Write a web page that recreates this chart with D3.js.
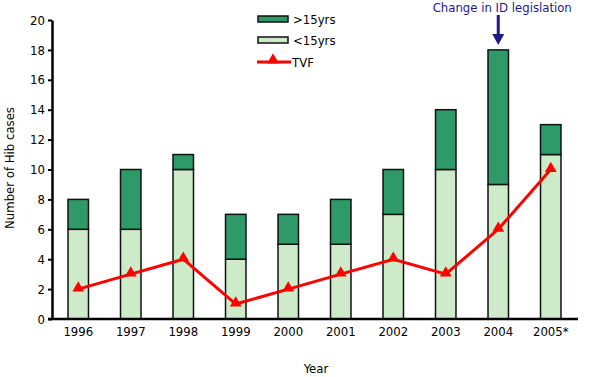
<!DOCTYPE html>
<html>
<head>
<meta charset="utf-8">
<script src="https://cdn.jsdelivr.net/npm/d3@7"></script>
<style>
  body { margin: 0; background: #fff; }
  text { font-family: "DejaVu Sans Condensed", "DejaVu Sans", sans-serif; font-stretch: condensed; fill: #000; }
</style>
</head>
<body>
<div id="chart"></div>
<script>
// data
var years = ['1996','1997','1998','1999','2000','2001','2002','2003','2004','2005*'];
var under15 = [6, 6, 10, 4, 5, 5, 7, 10, 9, 11];
var over15 = [2, 4, 1, 3, 2, 3, 3, 4, 9, 2];
var tvf = [2, 3, 4, 1, 2, 3, 4, 3, 6, 10];
var yTicks = [0, 2, 4, 6, 8, 10, 12, 14, 16, 18, 20];

const width = 600, height = 377;
const dark = '#2e9a68', light = '#cdebc8', red = '#ff0000', navy = '#1f1a85';

var svg = d3.select('#chart').append('svg')
  .attr('width', width)
  .attr('height', height);

var x = d3.scaleBand().domain(years).range([52, 577]).paddingInner(0.61).paddingOuter(0.305);
var y = d3.scaleLinear().domain([0, 20]).range([319, 20]);

// stacked bars
var rows = years.map((yr, i) => ({ year: yr, under: under15[i], over: over15[i], tvf: tvf[i] }));
var stack = d3.stack().keys(['under', 'over'])(rows);
var fills = { under: light, over: dark };

svg.append('g').selectAll('g')
  .data(stack)
  .enter().append('g')
  .attr('fill', d => fills[d.key])
  .selectAll('rect')
  .data(d => d)
  .enter().append('rect')
  .attr('x', d => x(d.data.year))
  .attr('width', x.bandwidth())
  .attr('y', d => y(d[1]))
  .attr('height', d => y(d[0]) - y(d[1]))
  .attr('stroke', '#111')
  .attr('stroke-width', 1.5);

// TVF line
var line = d3.line()
  .x(d => x(d.year) + x.bandwidth() / 2)
  .y(d => y(d.tvf));

svg.append('path')
  .datum(rows)
  .attr('fill', 'none')
  .attr('stroke', red)
  .attr('stroke-width', 3)
  .attr('d', line);

var tri = d3.symbol().type(d3.symbolTriangle).size(60);
svg.append('g').selectAll('path')
  .data(rows)
  .enter().append('path')
  .attr('d', tri)
  .attr('fill', red)
  .attr('transform', d => 'translate(' + (x(d.year) + x.bandwidth() / 2) + ',' + (y(d.tvf) - 1) + ')');

// axes
var yAxis = d3.axisLeft(y).tickValues(yTicks).tickSize(4).tickSizeOuter(0);
var yg = svg.append('g').attr('transform', 'translate(52,0)').call(yAxis);
yg.select('.domain').attr('stroke', '#000').attr('stroke-width', 2.5);
yg.selectAll('.tick line').attr('stroke-width', 2);
yg.selectAll('text').attr('font-size', 13).attr('x', -7);

var xAxis = d3.axisBottom(x).tickSize(0).tickSizeOuter(0);
var xg = svg.append('g').attr('transform', 'translate(0,319)').call(xAxis);
xg.select('.domain').attr('d', 'M48,0H578').attr('stroke', '#000').attr('stroke-width', 2.5);
xg.selectAll('text').attr('font-size', 13).attr('dy', null).attr('y', 17);

svg.append('text')
  .attr('transform', 'translate(14,168) rotate(-90)')
  .attr('text-anchor', 'middle')
  .attr('font-size', 13)
  .text('Number of Hib cases');

svg.append('text')
  .attr('x', 316).attr('y', 373)
  .attr('text-anchor', 'middle')
  .attr('font-size', 13)
  .text('Year');

// legend
var legend = svg.append('g');
var legendItems = [
  { label: '>15yrs', color: dark, y: 19 },
  { label: '<15yrs', color: light, y: 40 }
];
legend.selectAll('rect')
  .data(legendItems)
  .enter().append('rect')
  .attr('x', 258).attr('y', d => d.y - 3)
  .attr('width', 30).attr('height', 6)
  .attr('fill', d => d.color)
  .attr('stroke', '#111').attr('stroke-width', 1.5);
legend.selectAll('text.lbl')
  .data(legendItems)
  .enter().append('text')
  .attr('class', 'lbl')
  .attr('x', 293).attr('y', d => d.y + 5)
  .attr('font-size', 13)
  .text(d => d.label);
legend.append('line')
  .attr('x1', 257).attr('x2', 291).attr('y1', 62).attr('y2', 62)
  .attr('stroke', red).attr('stroke-width', 3);
legend.append('path')
  .attr('d', tri)
  .attr('fill', red)
  .attr('transform', 'translate(273,60)');
legend.append('text')
  .attr('x', 292).attr('y', 67)
  .attr('font-size', 13)
  .text('TVF');

// annotation over 2004
var ax = x('2004') + x.bandwidth() / 2;
svg.append('text')
  .attr('x', ax + 4).attr('y', 12)
  .attr('text-anchor', 'middle')
  .attr('font-size', 13)
  .style('fill', navy)
  .text('Change in ID legislation');
svg.append('line')
  .attr('x1', ax).attr('x2', ax).attr('y1', 15).attr('y2', 36)
  .attr('stroke', navy).attr('stroke-width', 3);
svg.append('path')
  .attr('d', 'M' + (ax - 6) + ',34L' + (ax + 6) + ',34L' + ax + ',45Z')
  .attr('fill', navy);
</script>
</body>
</html>
